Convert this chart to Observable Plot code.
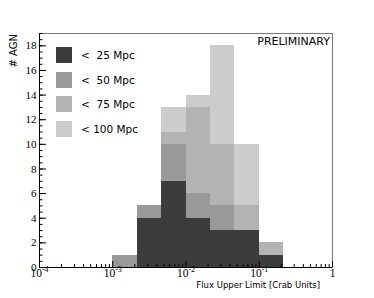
<!DOCTYPE html>
<html><head><meta charset="utf-8">
<script src="https://cdn.jsdelivr.net/npm/d3@7"></script>
<script src="https://cdn.jsdelivr.net/npm/@observablehq/plot@0.6"></script>
<style>
body{margin:0;background:#fff;}
#wrap{position:relative;width:374px;height:298px;overflow:hidden;}
.box{position:absolute;width:16px;height:16px;}
.lt{position:absolute;font-family:"DejaVu Sans";font-size:10.5px;white-space:pre;color:#000;line-height:16px;}
</style></head><body><div id="wrap"></div>
<script>
// bin edges (Crab units) of the 1/3-decade histogram bins
const binEdges = [0.001, 0.00215, 0.00464, 0.01, 0.0215, 0.0464, 0.1, 0.215];
const seriesNames = ["<  25 Mpc", "<  50 Mpc", "<  75 Mpc", "< 100 Mpc"];
const seriesColors = ["#3c3c3c", "#999999", "#b3b3b3", "#cccccc"];
const counts25  = [0, 4, 7, 4, 3, 3, 1];
const counts50  = [1, 5, 10, 6, 5, 3, 1];
const counts75  = [1, 5, 11, 13, 10, 5, 2];
const counts100 = [1, 5, 13, 14, 18, 10, 2];
const yTicks = [0, 2, 4, 6, 8, 10, 12, 14, 16, 18];
const xTicks = [1e-4, 1e-3, 1e-2, 1e-1, 1];
const xTickLabels = ["10^-4", "10^-3", "10^-2", "10^-1", "1"];
const xTitle = "Flux Upper Limit [Crab Units]";
const yTitle = "# AGN";
const stamp = "PRELIMINARY";

const seriesCounts = [counts25, counts50, counts75, counts100];
const bars = [];
for (let s = seriesNames.length - 1; s >= 0; s--) {
  seriesCounts[s].forEach((c, i) => bars.push({x1: binEdges[i], x2: binEdges[i + 1], y: c, series: seriesNames[s]}));
}
const yMinor = d3.range(0, 19.01, 0.5);
const xMinor = [];
for (let i = 0; i < xTicks.length - 1; i++) for (let m = 2; m <= 9; m++) xMinor.push(xTicks[i] * m);

const plot = Plot.plot({
  width: 374, height: 298,
  marginLeft: 39, marginRight: 42, marginTop: 33, marginBottom: 31,
  style: {fontFamily: "Liberation Serif", fontSize: "11px", background: "#fff"},
  x: {type: "log", domain: [1e-4, 1]},
  y: {domain: [0, 19]},
  color: {domain: seriesNames, range: seriesColors},
  axis: null,
  marks: [
    Plot.rectY(bars, {x1: "x1", x2: "x2", y1: 0, y2: "y", fill: "series", inset: 0, shapeRendering: "crispEdges"}),
    Plot.frame({stroke: "#777", strokeWidth: 1}),
    Plot.ruleX([1e-4], {stroke: "#000"}),
    Plot.ruleY([0], {stroke: "#000"}),
    Plot.axisY(yMinor, {tickSize: -3.5, fill: "none", label: null, stroke: "#000"}),
    Plot.axisY(yTicks, {tickSize: -7, fill: "none", label: null, stroke: "#000"}),
    Plot.axisY(yTicks, {tickSize: 0, tickPadding: 3, label: null, fill: "#000", fontSize: 11}),
    Plot.axisX(xMinor, {tickSize: -3, fill: "none", label: null, stroke: "#000"}),
    Plot.axisX(xTicks, {tickSize: -6, fill: "none", label: null, stroke: "#000"}),
    Plot.axisX(xTicks, {tickSize: 0, tickPadding: 1, label: null, fill: "#000", fontSize: 11,
      tickFormat: (d) => xTickLabels[xTicks.indexOf(d)]})
  ]
});

// superscript exponents on the x tick labels
const NS = "http://www.w3.org/2000/svg";
plot.querySelectorAll('g[aria-label="x-axis tick label"] text').forEach((t) => {
  const s = t.textContent;
  t.setAttribute("font-size", "11.5");
  t.setAttribute("font-family", "Liberation Serif");
  if (s.includes("^")) {
    const [base, exp] = s.split("^");
    t.textContent = "";
    const a = document.createElementNS(NS, "tspan");
    a.textContent = base;
    const b = document.createElementNS(NS, "tspan");
    b.textContent = exp;
    b.setAttribute("dy", "-4.5");
    b.setAttribute("font-size", "8");
    t.appendChild(a); t.appendChild(b);
  }
});
plot.querySelectorAll('g[aria-label="y-axis tick label"] text').forEach((t) => {
  t.setAttribute("font-size", "11");
  t.setAttribute("font-family", "Liberation Serif");
});

// axis titles and stamp
function addText(txt, attrs) {
  const e = document.createElementNS(NS, "text");
  e.textContent = txt;
  for (const k in attrs) e.setAttribute(k, attrs[k]);
  plot.appendChild(e);
}
addText(xTitle, {x: 320, y: 288, "text-anchor": "end", "font-family": "DejaVu Sans", "font-size": "8.5", fill: "#000"});
addText(yTitle, {transform: "translate(17,34) rotate(-90)", "text-anchor": "end", "font-family": "DejaVu Sans", "font-size": "10", fill: "#000"});
addText(stamp, {x: 330, y: 45, "text-anchor": "end", "font-family": "DejaVu Sans", "font-size": "11", fill: "#000"});

const wrap = document.getElementById("wrap");
wrap.appendChild(plot);

// legend
seriesNames.forEach((name, i) => {
  const top = 47 + i * 24.5;
  const b = document.createElement("div");
  b.className = "box";
  b.style.left = "56px"; b.style.top = top + "px"; b.style.background = seriesColors[i];
  wrap.appendChild(b);
  const t = document.createElement("div");
  t.className = "lt";
  t.style.left = "81px"; t.style.top = top + "px";
  t.textContent = name;
  wrap.appendChild(t);
});
</script></body></html>
